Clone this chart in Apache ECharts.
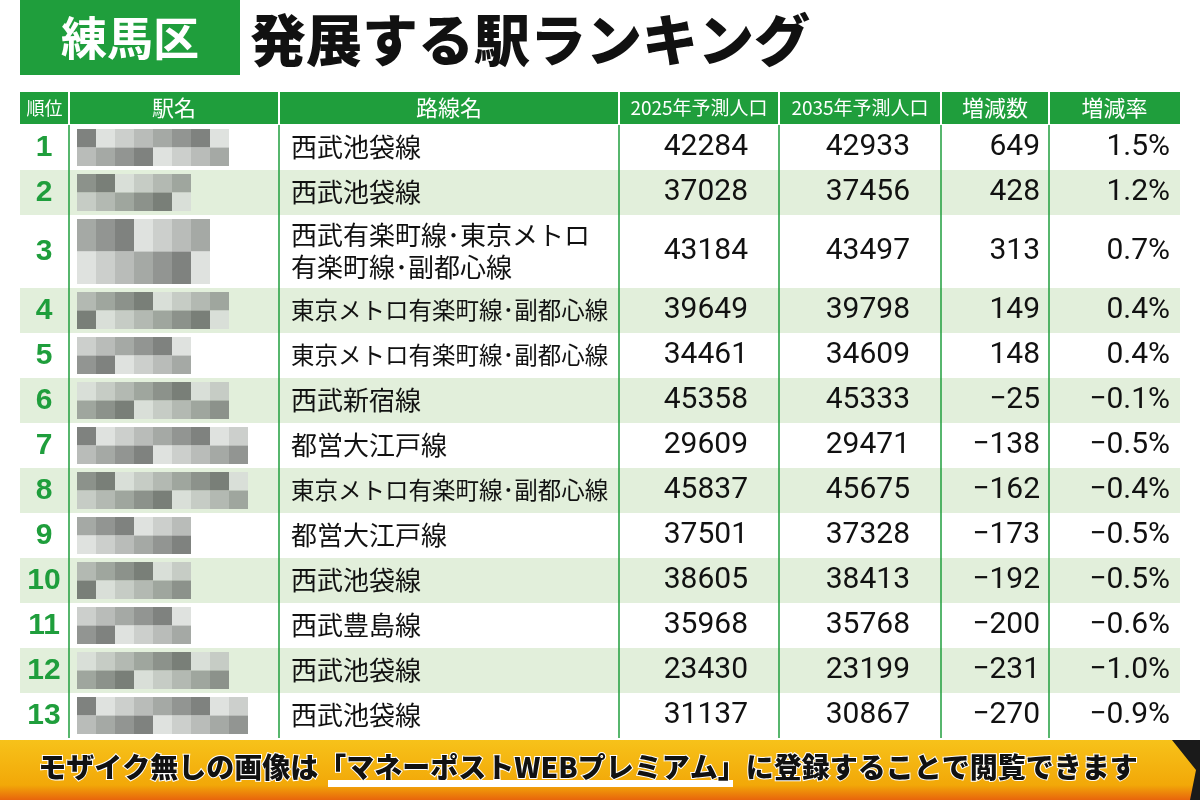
<!DOCTYPE html>
<html><head><meta charset="utf-8">
<script src="https://cdn.jsdelivr.net/npm/echarts@6/dist/echarts.min.js"></script>
<style>html,body{margin:0;padding:0;background:#fff}#c{width:1200px;height:800px}</style>
</head><body><div id="c"></div>
<script>
var ranks = ['1','2','3','4','5','6','7','8','9','10','11','12','13'];
var routes = ['西武池袋線','西武池袋線','西武有楽町線･東京メトロ\n有楽町線･副都心線','東京メトロ有楽町線･副都心線','東京メトロ有楽町線･副都心線','西武新宿線','都営大江戸線','東京メトロ有楽町線･副都心線','都営大江戸線','西武池袋線','西武豊島線','西武池袋線','西武池袋線'];
var pop2025 = [42284,37028,43184,39649,34461,45358,29609,45837,37501,38605,35968,23430,31137];
var pop2035 = [42933,37456,43497,39798,34609,45333,29471,45675,37328,38413,35768,23199,30867];
var diff = [649,428,313,149,148,-25,-138,-162,-173,-192,-200,-231,-270];
var rate = ['1.5%','1.2%','0.7%','0.4%','0.4%','-0.1%','-0.5%','-0.4%','-0.5%','-0.5%','-0.6%','-1.0%','-0.9%'];
var headers = ['順位','駅名','路線名','2025年予測人口','2035年予測人口','増減数','増減率'];
var mosaicLen = [8,6,7,8,6,8,9,9,6,6,6,8,9];

var colX = [20,69,279,619,779,941,1049,1180];
var rowH = [45,45,73,45,45,45,45,45,45,45,45,45,45];
var rowTop = [];
var acc = 125;
rowH.forEach(function(h){ rowTop.push(acc); acc += h; });
var GREEN = '#1f9e3c';
var NUMF = '"Roboto","Noto Sans CJK JP"';
var JPF = '"Noto Sans CJK JP"';
function fmtMinus(s){ return String(s).replace('-','−'); }

var chart = echarts.init(document.getElementById('c'));

function renderRow(params, api) {
  var i = api.value(0);
  var top = rowTop[i], h = rowH[i];
  var p0 = api.coord([colX[0], top]);
  var p1 = api.coord([colX[7], top + h]);
  var children = [];
  children.push({type:'rect', shape:{x:p0[0], y:p0[1], width:p1[0]-p0[0], height:p1[1]-p0[1]},
    style:{fill: i % 2 === 1 ? '#e2efdb' : '#ffffff'}});
  var n = mosaicLen[i];
  for (var r = 0; r < 2; r++) {
    for (var c = 0; c < n; c++) {
      var shade = 95 + ((i * 7 + c * 5 + r * 3) % 6) * 24;
      var bx = api.coord([77 + c * 19, top + 4 + r * (h - 8) / 2]);
      children.push({type:'rect', shape:{x:bx[0], y:bx[1], width:19, height:(h - 8) / 2},
        style:{fill:'rgb(' + shade + ',' + (shade + 4) + ',' + shade + ')', opacity:0.8}});
    }
  }
  var cy = api.coord([0, top + h / 2])[1];
  function txt(x, s, align, font, size, color, weight) {
    children.push({type:'text', x: api.coord([x, 0])[0], y: cy,
      style:{text: s, textAlign: align, textVerticalAlign:'middle', fontFamily: font,
        fontSize: size, fill: color || '#111', fontWeight: weight || 'normal', lineHeight: 32}});
  }
  txt(44, ranks[i], 'center', '"Liberation Sans"', 30, GREEN, 'bold');
  txt(291, routes[i], 'left', JPF, routes[i].length > 12 && routes[i].indexOf('\n') < 0 ? 23.5 : 26, '#111');
  txt(748, String(pop2025[i]), 'right', NUMF, 30);
  txt(910, String(pop2035[i]), 'right', NUMF, 30);
  txt(1040, fmtMinus(diff[i]), 'right', NUMF, 30);
  txt(1170, fmtMinus(rate[i]), 'right', NUMF, 30);
  for (var k = 1; k < 7; k++) {
    var a = api.coord([colX[k], top]), b = api.coord([colX[k], top + h]);
    children.push({type:'line', shape:{x1:a[0], y1:a[1], x2:b[0], y2:b[1]}, style:{stroke:GREEN, lineWidth:1.5}});
  }
  return {type:'group', children: children};
}

var headerGraphics = [];
for (var k = 0; k < 7; k++) {
  headerGraphics.push({type:'rect', shape:{x:colX[k] + (k ? 1 : 0), y:92, width:colX[k+1] - colX[k] - (k ? 1 : 0), height:32}, style:{fill:GREEN}});
  headerGraphics.push({type:'text', x:(colX[k] + colX[k+1]) / 2, y:108,
    style:{text:headers[k], textAlign:'center', textVerticalAlign:'middle', fontFamily: JPF,
      fontSize: k === 0 ? 18 : (k >= 3 && k <= 4 ? 19 : 22), fill:'#fff'}});
}
for (var k = 1; k < 7; k++) {
  headerGraphics.push({type:'line', shape:{x1:colX[k], y1:92, x2:colX[k], y2:124}, style:{stroke:'#fff', lineWidth:2}});
}

var option = {
  animation: false,
  grid: {left:0, right:0, top:0, bottom:0},
  xAxis: {type:'value', min:0, max:1200, show:false},
  yAxis: {type:'value', min:0, max:800, inverse:true, show:false},
  series: [{type:'custom', renderItem: renderRow, data: ranks.map(function(r, i){ return [i]; }), clip:false}],
  graphic: [
    {type:'rect', shape:{x:20, y:0, width:220, height:75}, style:{fill:GREEN}},
    {type:'text', x:130, y:38, style:{text:'練馬区', textAlign:'center', textVerticalAlign:'middle', fontFamily:JPF, fontSize:46, fontWeight:'bold', fill:'#fff'}},
    {type:'text', x:250, y:40, style:{text:'発展する駅ランキング', textAlign:'left', textVerticalAlign:'middle', fontFamily:JPF, fontSize:56, fontWeight:900, fill:'#111'}}
  ].concat(headerGraphics).concat([
    {type:'rect', shape:{x:0, y:740, width:1200, height:60}, style:{fill:{type:'linear', x:0, y:0, x2:0, y2:1,
      colorStops:[{offset:0, color:'#f7c21a'}, {offset:0.75, color:'#f2a808'}, {offset:1, color:'#e8650c'}]}}},
    {type:'polygon', shape:{points:[[1172,740],[1200,740],[1200,800],[1190,800],[1196,770]]}, style:{fill:'#1a1a1a'}},
    {type:'rect', shape:{x:328, y:780, width:405, height:7}, style:{fill:'#fff'}},
    {type:'text', x:588, y:767, style:{text:'モザイク無しの画像は「マネーポストWEBプレミアム」に登録することで閲覧できます',
      textAlign:'center', textVerticalAlign:'middle', fontFamily:JPF, fontSize:28, fontWeight:900, fill:'#111',
      stroke:'#fff', lineWidth:2}}
  ])
};
chart.setOption(option);
</script>
</body></html>
